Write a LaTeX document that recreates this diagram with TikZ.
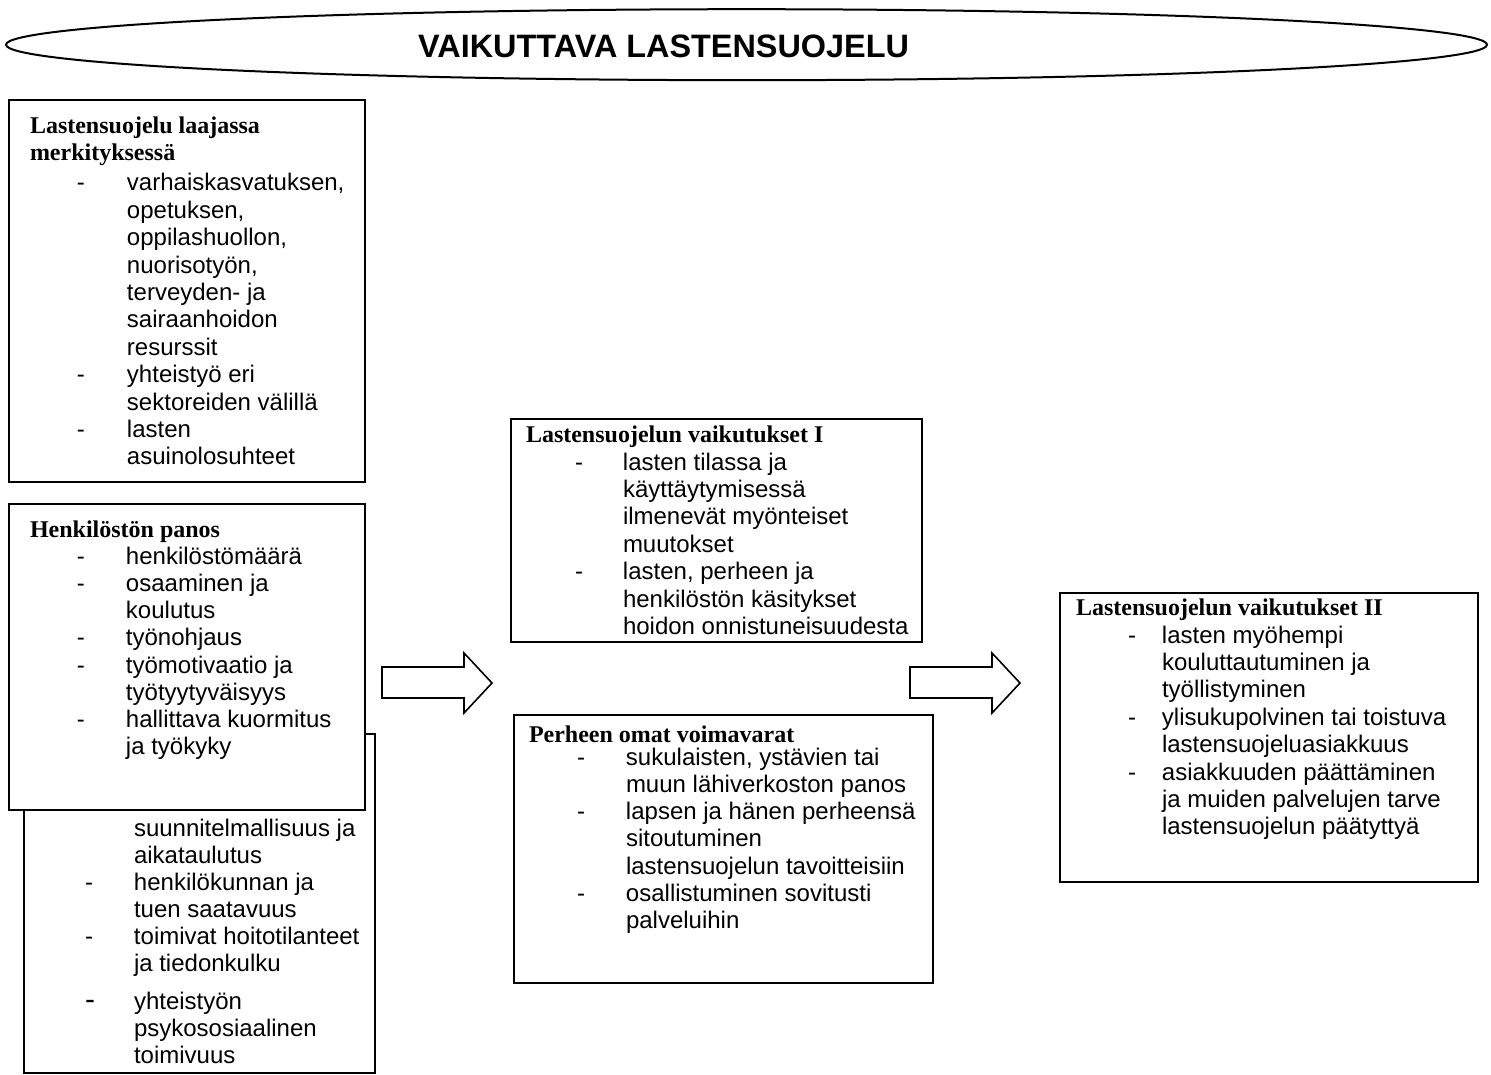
\documentclass[tikz,border=0pt]{standalone}
\usepackage{fontspec}
\setmainfont{Liberation Serif}
\newfontfamily\arial{Liberation Sans}
\usetikzlibrary{shapes.geometric}
\tikzset{
  panel/.style={draw, line width=2pt, fill=white, inner sep=0pt, anchor=north west},
  blockarrow/.style={draw, line width=1.6pt, fill=white, line join=miter},
  banner/.style={draw, ellipse, line width=2pt, inner sep=0pt},
}
\newcommand\Hd[2]{\leavevmode\hspace*{#1}\mbox{\bfseries #2}\par}
\newcommand\It[3]{\leavevmode\rlap{\hspace*{#1}\arial -}\hspace*{#2}\mbox{\arial #3}\par}
\newcommand\Ct[2]{\leavevmode\hspace*{#1}\mbox{\arial #2}\par}
\newcommand\Pbox[4]{\begin{minipage}[t][#2][t]{#1}\fontsize{24}{#3}\selectfont\setlength\parindent{0pt}\setlength\parskip{0pt}#4\end{minipage}}
\begin{document}
\begin{tikzpicture}[x=1pt,y=-1pt]
\fill[white] (0,0) rectangle (1491,1074);
\useasboundingbox (0,0) rectangle (1491,1074);

% banner
\node[banner, minimum width=1481pt, minimum height=71pt] (banner) at (746.5,44.7) {};
\node[anchor=base west, inner sep=0pt] (title) at (418,57.5) {\arial\bfseries\fontsize{32.4}{38}\selectfont VAIKUTTAVA LASTENSUOJELU};

% box A
\node[panel] (A) at (8,99) {\Pbox{356pt}{382pt}{27.4pt}{%
\Hd{21pt}{\rule{0pt}{33pt}Lastensuojelu laajassa}
\Hd{21pt}{merkityksessä}
\vspace{3pt}
\It{68pt}{118pt}{varhaiskasvatuksen,}
\Ct{118pt}{opetuksen,}
\Ct{118pt}{oppilashuollon,}
\Ct{118pt}{nuorisotyön,}
\Ct{118pt}{terveyden- ja}
\Ct{118pt}{sairaanhoidon}
\Ct{118pt}{resurssit}
\It{68pt}{118pt}{yhteistyö eri}
\Ct{118pt}{sektoreiden välillä}
\It{68pt}{118pt}{lasten}
\Ct{118pt}{asuinolosuhteet}
}};

% box C (behind B)
\node[panel] (C) at (23,733) {\Pbox{351pt}{339pt}{27pt}{%
\Ct{110pt}{\rule{0pt}{102pt}suunnitelmallisuus ja}
\Ct{110pt}{aikataulutus}
\It{61pt}{110pt}{henkilökunnan ja}
\Ct{110pt}{tuen saatavuus}
\It{61pt}{110pt}{toimivat hoitotilanteet}
\Ct{110pt}{ja tiedonkulku}
\vspace{11pt}
\leavevmode\rlap{\hspace*{61pt}\arial\fontsize{30}{27}\selectfont -}\hspace*{110pt}\mbox{\arial yhteistyön}\par
\Ct{110pt}{psykososiaalinen}
\Ct{110pt}{toimivuus}
}};

% box B
\node[panel] (B) at (8,503) {\Pbox{356pt}{306pt}{27.2pt}{%
\Hd{21pt}{\rule{0pt}{33pt}Henkilöstön panos}
\It{68pt}{117pt}{henkilöstömäärä}
\It{68pt}{117pt}{osaaminen ja}
\Ct{117pt}{koulutus}
\It{68pt}{117pt}{työnohjaus}
\It{68pt}{117pt}{työmotivaatio ja}
\Ct{117pt}{työtyytyväisyys}
\It{68pt}{117pt}{hallittava kuormitus}
\Ct{117pt}{ja työkyky}
}};

% box I
\node[panel] (I) at (510,418) {\Pbox{411pt}{223pt}{27.4pt}{%
\Hd{15pt}{\rule{0pt}{23pt}Lastensuojelun vaikutukset I}
\vspace{0.6pt}
\It{64pt}{112pt}{lasten tilassa ja}
\Ct{112pt}{käyttäytymisessä}
\Ct{112pt}{ilmenevät myönteiset}
\Ct{112pt}{muutokset}
\It{64pt}{112pt}{lasten, perheen ja}
\Ct{112pt}{henkilöstön käsitykset}
\Ct{112pt}{hoidon onnistuneisuudesta}
}};

% box P
\node[panel] (P) at (513,714) {\Pbox{419pt}{268pt}{27.3pt}{%
\Hd{15pt}{\rule{0pt}{27pt}Perheen omat voimavarat}
\vspace{-4.3pt}
\It{63pt}{112pt}{sukulaisten, ystävien tai}
\Ct{112pt}{muun lähiverkoston panos}
\It{63pt}{112pt}{lapsen ja hänen perheensä}
\Ct{112pt}{sitoutuminen}
\Ct{112pt}{lastensuojelun tavoitteisiin}
\It{63pt}{112pt}{osallistuminen sovitusti}
\Ct{112pt}{palveluihin}
}};

% box II
\node[panel] (II) at (1059,592) {\Pbox{418pt}{289pt}{27.4pt}{%
\Hd{16pt}{\rule{0pt}{22pt}Lastensuojelun vaikutukset II}
\vspace{0.6pt}
\It{68pt}{102pt}{lasten myöhempi}
\Ct{102pt}{kouluttautuminen ja}
\Ct{102pt}{työllistyminen}
\It{68pt}{102pt}{ylisukupolvinen tai toistuva}
\Ct{102pt}{lastensuojeluasiakkuus}
\It{68pt}{102pt}{asiakkuuden päättäminen}
\Ct{102pt}{ja muiden palvelujen tarve}
\Ct{102pt}{lastensuojelun päätyttyä}
}};

% block arrows
\draw[blockarrow] (382,667) -- (464,667) -- (464,653) -- (492,683) -- (464,713) -- (464,698) -- (382,698) -- cycle;
\draw[blockarrow] (910,667) -- (992,667) -- (992,653) -- (1020,683) -- (992,713) -- (992,698) -- (910,698) -- cycle;
\end{tikzpicture}
\end{document}
